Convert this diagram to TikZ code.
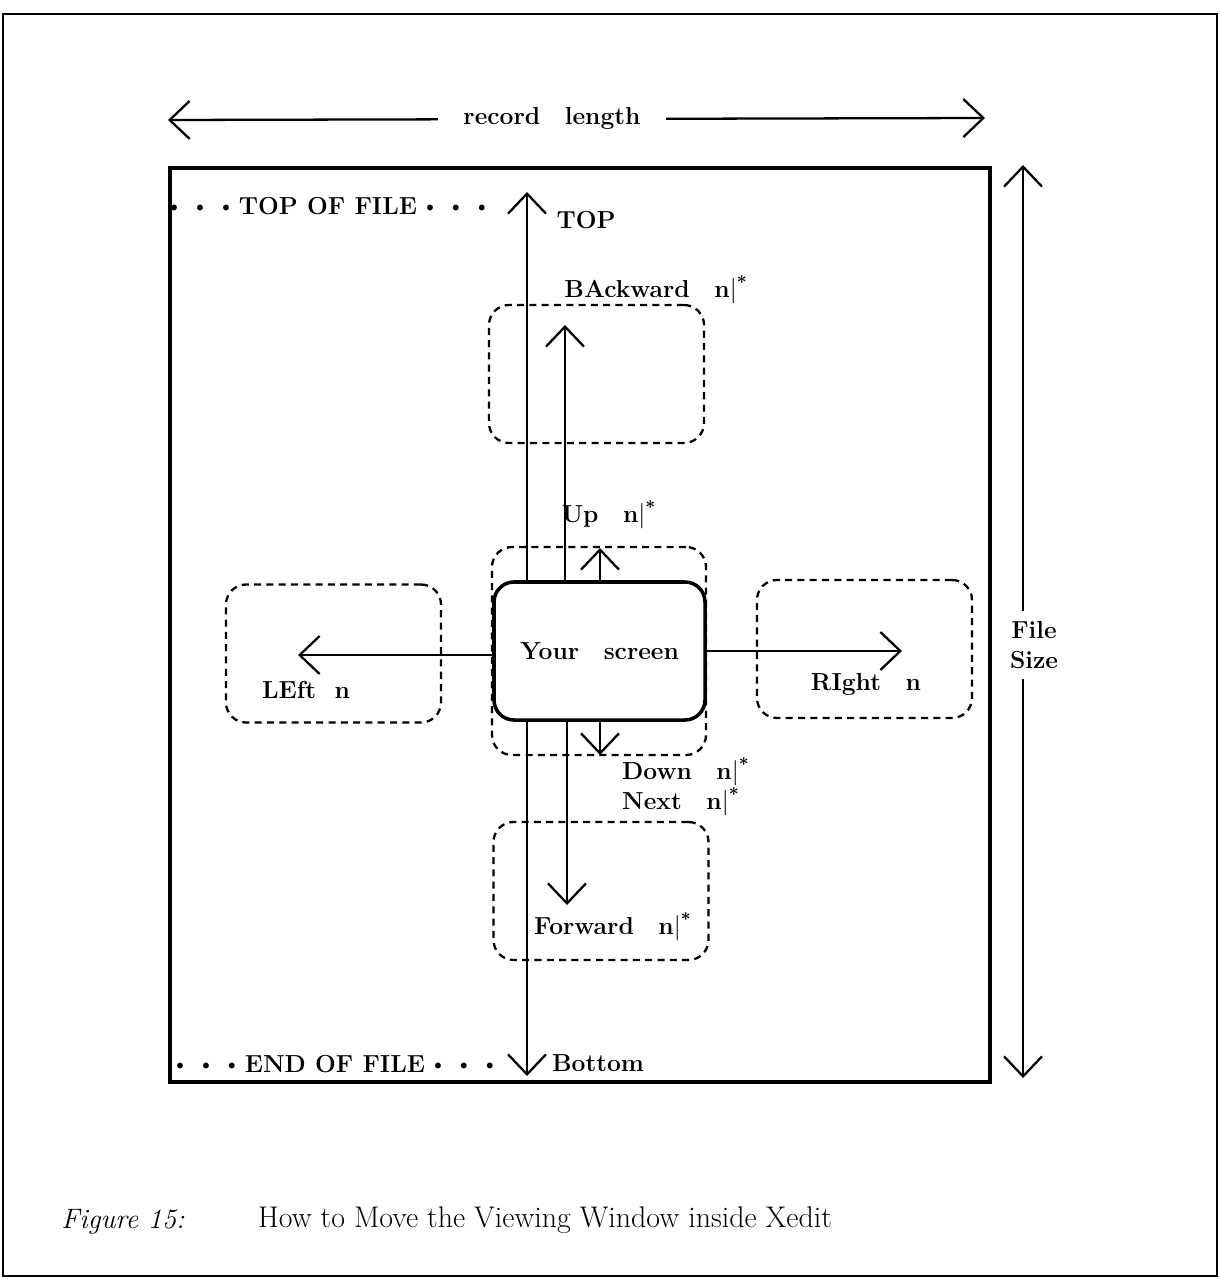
\documentclass[tikz,border=0pt]{standalone}
\usepackage{fontspec}
\usepackage{tikz}
\usetikzlibrary{arrows.meta,positioning}
\newcommand{\nstar}{n$|$\textsuperscript{*}}
\newcommand{\fdot}{\raisebox{1.5pt}{\footnotesize$\bullet$}}
\newcommand{\threestars}{\fdot\ \ \fdot\ \ \fdot}

\begin{document}
\begin{tikzpicture}[x=0.2mm, y=-0.2mm,
      every node/.style={font=\fontsize{14}{17}\selectfont\bfseries\addfontfeatures{LetterSpace=4}},
      win/.style={draw, line width=1.3pt, dash pattern=on 4pt off 3pt, rounded corners=4mm, minimum width=43mm, minimum height=27.6mm},
      screen/.style={draw, line width=2pt, rounded corners=4mm, fill=white, minimum width=42.2mm, minimum height=27.6mm},
      arr/.style={line width=1.3pt, -{Straight Barb[length=4mm, width=7.6mm]}},
      darr/.style={line width=1.3pt, {Straight Barb[length=4mm, width=7.6mm]}-{Straight Barb[length=4mm, width=7.6mm]}}]
    \useasboundingbox (0,0) rectangle (1220,1279);
    \draw[line width=0.9pt] (3,14) rectangle (1217,1276);
    \node[draw, line width=2.2pt, minimum width=164mm, minimum height=182.8mm] (file) at (580,625) {};
    \coordinate (rlL) at (168,120); \coordinate (rlR) at (985,118);
    \coordinate (fstop) at (1023,165); \coordinate (fsbot) at (1023,1078);
    \coordinate (tofp) at (527,192); \coordinate (eofp) at (527,1076);
    \draw[darr] (rlL) -- (rlR); \draw[darr] (fstop) -- (fsbot); \draw[darr] (tofp) -- (eofp);
    \node[fill=white, inner xsep=5mm] (rlen) at (552,118) {record\quad length};
    \node[fill=white, align=center, inner ysep=2mm] (fsize) at (1034,645) {File\\Size};
    \node (tof) at (328,206) {\threestars\ TOP OF FILE \threestars};
    \node (eof) at (335,1064) {\threestars\ END OF FILE \threestars};
    \node (toplbl) at (586,220) {TOP};
    \node (botlbl) at (598,1063) {Bottom};
    \node[win] (back) at (596.5,374) {};
    \node[win, minimum width=42.8mm, minimum height=41.6mm] (upwin) at (599,651) {};
    \node[win] (fwd) at (601,891) {};
    \node[win] (lwin) at (333.5,653.5) {};
    \node[win] (rwin) at (864.5,649) {};
    \node[screen] (scr) at (599.5,651) {Your\quad screen};
    \coordinate (bktip) at (565,325); \coordinate (uptip) at (600,548);
    \coordinate (dntip) at (600,755); \coordinate (fwtip) at (567,905);
    \coordinate (lftip) at (298,655); \coordinate (rttip) at (902,651);
    \draw[arr] (scr.north -| bktip) -- (bktip); \draw[arr] (scr.north -| uptip) -- (uptip);
    \draw[arr] (scr.south -| dntip) -- (dntip); \draw[arr] (scr.south -| fwtip) -- (fwtip);
    \draw[arr] (scr.west |- lftip) -- (lftip); \draw[arr] (scr.east |- rttip) -- (rttip);
    \node (bklbl) at (656,290) {BAckward\quad\nstar};
    \node (uplbl) at (609,515) {Up\quad\nstar};
    \node[anchor=west] (dnlbl) at (616,772) {Down\quad\nstar};
    \node[anchor=west] (nxlbl) at (616,802) {Next\quad\nstar};
    \node[anchor=west] (fwlbl) at (528,927) {Forward\quad\nstar};
    \node (lflbl) at (306,690) {LEft\ \ n};
    \node (rtlbl) at (866,684) {RIght\quad n};
    \node[font=\fontsize{16}{20}\selectfont\itshape] (figno) at (123,1222) {Figure 15:};
    \node[font=\fontsize{17}{20}\selectfont] (cap) at (545,1220) {How to Move the Viewing Window inside Xedit};
  \end{tikzpicture}
\end{document}
